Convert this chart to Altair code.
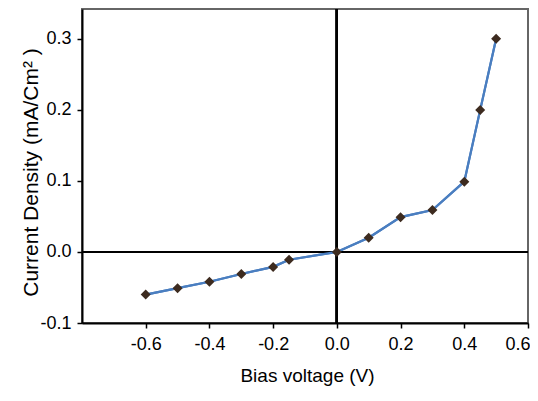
import altair as alt
import pandas as pd

voltage = [-0.6, -0.5, -0.4, -0.3, -0.2, -0.15, 0.0, 0.1, 0.2, 0.3, 0.4, 0.45, 0.5]
current = [-0.06, -0.051, -0.042, -0.031, -0.021, -0.011, 0.0, 0.02, 0.049, 0.059, 0.099, 0.2, 0.3]

x_ticks = [-0.6, -0.4, -0.2, 0.0, 0.2, 0.4, 0.6]
y_ticks = [-0.1, -0.05, 0.0, 0.05, 0.1, 0.15, 0.2, 0.25, 0.3]

df = pd.DataFrame({"v": voltage, "j": current})

W, H = 446, 314
FONT = "Liberation Sans"

label_expr = ("abs(datum.value*10 - round(datum.value*10)) < 0.001 ? "
              "((datum.value < -0.0001 ? '-' : '') + format(abs(datum.value), '.1f')) : ''")
x_label_expr = "(datum.value < -0.0001 ? '-' : '') + format(abs(datum.value), '.1f')"

x_enc = alt.X("v:Q", scale=alt.Scale(domain=[-0.8, 0.6], nice=False, zero=False),
              axis=alt.Axis(values=x_ticks, labelExpr=x_label_expr, title="Bias voltage (V)",
                            grid=False, domainColor="black", domainWidth=2,
                            tickColor="black", tickWidth=1.5, tickSize=5,
                            labelFont=FONT, labelFontSize=18, labelColor="black",
                            labelBaseline="alphabetic", labelPadding=21,
                            labelFlush=True, labelFlushOffset=2,
                            titleFont=FONT, titleFontSize=19, titleFontWeight="normal",
                            titleColor="black", titleX=225, titleY=58,
                            titleBaseline="alphabetic"))
y_enc = alt.Y("j:Q", scale=alt.Scale(domain=[-0.1, 0.342], nice=False, zero=False),
              axis=alt.Axis(values=y_ticks, labelExpr=label_expr,
                            title="Current Density (mA/Cm² )",
                            grid=False, domainColor="black", domainWidth=2,
                            tickColor="black", tickWidth=1.5, tickSize=5,
                            labelFont=FONT, labelFontSize=18, labelColor="black",
                            labelPadding=6, labelFlush=False,
                            titleFont=FONT, titleFontSize=21, titleFontWeight="normal",
                            titleColor="black", titleX=-45, titleY=163,
                            titleBaseline="alphabetic"))

base = alt.Chart(df)

zero_h = base.mark_rule(color="black", strokeWidth=2).encode(y=alt.datum(0))
zero_v = base.mark_rule(color="black", strokeWidth=2).encode(x=alt.datum(0))

line = base.mark_line(color="#4a7ec0", strokeWidth=2.2).encode(x=x_enc, y=y_enc)
pts = base.mark_point(shape="diamond", filled=True, color="#3d2b1f", size=100, opacity=1).encode(
    x="v:Q", y="j:Q")

chart = alt.layer(line, zero_h, zero_v, line, pts).properties(
    width=W, height=H,
    autosize=alt.AutoSizeParams(type="none"),
    padding={"left": 74, "top": 1, "right": 2, "bottom": 65},
).configure_view(stroke="#666666", strokeWidth=2)

chart.save("out.html", embed_options={"renderer": "svg", "actions": False})
